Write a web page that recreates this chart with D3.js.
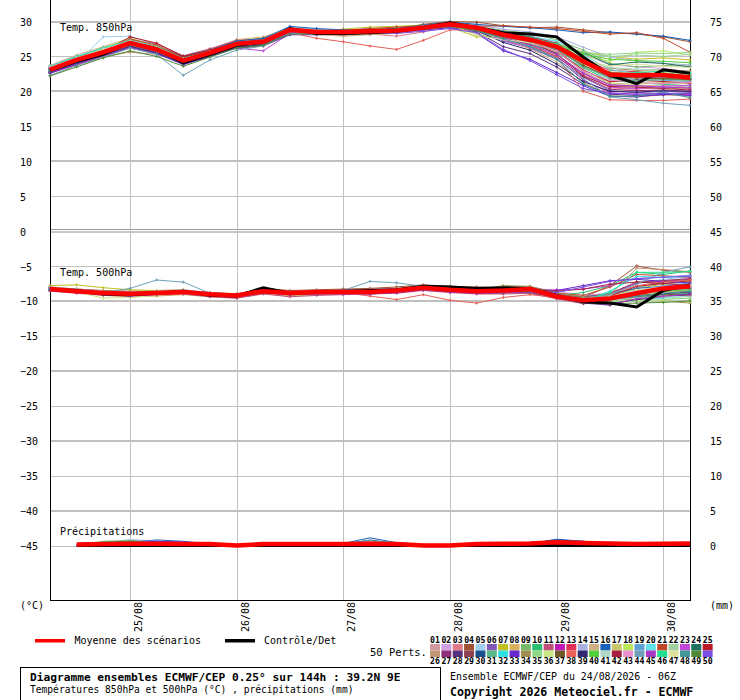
<!DOCTYPE html>
<html>
<head>
<meta charset="utf-8">
<script src="https://cdn.jsdelivr.net/npm/d3@7"></script>
<style>
  body { margin: 0; background: #fff; }
  text { font-family: "DejaVu Sans Mono", monospace; font-size: 10px; fill: #000; }
</style>
</head>
<body>
<div id="chart"></div>
<script>
// forecast steps (hours after 24/08 06Z)
const hours = [0,6,12,18,24,30,36,42,48,54,60,66,72,78,84,90,96,102,108,114,120,126,132,138,144];
const precipHours = [6,12,18,24,30,36,42,48,54,60,66,72,78,84,90,96,102,108,114,120,126,132,138,144];
const dateHours = [18,42,66,90,114,138];
const dateLabels = ["25/08","26/08","27/08","28/08","29/08","30/08"];
const leftTicks = [30,25,20,15,10,5,0,-5,-10,-15,-20,-25,-30,-35,-40,-45];
const rightTickLabels = ["75","70","65","60","55","50","45","40","35","30","25","20","15","10","5","0"];

const memberColors = ["#d09aa0","#d0a0e0","#e07a88","#a05030","#a0d0f0","#8058b8","#c0c020","#d8b060","#78b868","#28c070",
  "#c05078","#c018b8","#e03058","#a8b0e0","#d0b080","#1860b8","#c8c868","#b8e858","#60a0d8","#60e0e8",
  "#c04828","#a0d0a0","#c048d8","#207060","#b81828","#c09878","#903078","#583080","#904050","#185090",
  "#58b888","#30e0e0","#6828d0","#a09050","#90d888","#c8e888","#705828","#e86058","#302870","#50d038",
  "#b0d8c8","#a82040","#e890d0","#70a0b8","#a838c8","#20e090","#e0e0a0","#409898","#508838","#7850e8"];

// 850 hPa temperature (°C)
const t850Mean = [23.1,24.5,25.6,26.9,26.0,24.4,25.5,26.8,27.1,28.8,28.5,28.5,28.6,28.7,29.1,29.6,29.1,28.1,27.4,26.4,24.3,22.4,22.3,22.3,22.0];
const t850Control = [23.0,24.3,25.3,27.0,26.1,24.1,25.3,26.6,27.0,29.0,28.3,28.3,28.4,28.6,29.1,29.8,29.1,28.4,28.2,27.8,24.9,22.3,21.1,23.1,22.6];
const t850Members = [
  [23.4,24.8,26.0,27.2,26.3,24.6,25.8,27.0,27.4,28.9,28.6,28.4,28.3,28.5,29.0,29.5,29.0,28.0,27.1,25.6,23.2,21.0,20.8,20.9,20.6],
  [22.9,24.2,25.9,27.5,26.4,24.9,25.7,26.5,26.9,28.5,28.7,28.8,29.0,29.1,29.3,29.8,29.4,28.6,27.9,27.0,25.3,23.8,23.5,23.3,22.8],
  [23.2,24.0,25.1,26.4,25.8,24.0,25.2,27.2,27.6,29.1,28.9,28.6,28.2,27.9,28.5,29.3,28.7,27.6,26.8,25.2,22.4,20.5,20.3,20.6,20.4],
  [23.6,25.0,25.8,26.8,26.5,25.0,25.9,27.1,27.2,28.6,28.2,28.0,28.4,28.9,29.6,30.0,29.9,29.4,29.1,29.2,28.8,28.4,28.2,27.8,27.1],
  [23.0,24.1,27.8,27.9,26.7,24.8,25.6,26.9,27.5,29.2,28.9,28.7,28.8,28.8,29.2,29.7,29.2,28.3,27.8,27.0,24.8,22.6,22.9,22.0,21.7],
  [22.7,24.6,25.4,26.6,25.5,23.8,25.0,26.4,26.8,28.4,28.3,28.1,28.5,28.6,28.8,29.4,28.8,27.2,26.2,24.6,22.0,20.1,19.8,20.0,19.9],
  [23.3,24.7,26.1,27.3,26.2,24.3,25.4,26.2,26.5,28.3,28.4,28.9,29.2,29.3,29.5,29.2,27.8,27.9,27.6,26.8,25.6,25.0,24.6,24.8,24.5],
  [23.0,24.4,25.5,26.5,25.9,24.6,26.0,27.4,27.8,29.0,28.6,28.5,28.6,28.8,29.1,29.5,29.1,28.4,27.6,26.5,23.8,21.9,21.6,21.8,21.5],
  [22.8,24.5,25.7,26.9,26.1,24.7,25.5,26.7,27.0,28.7,28.5,28.4,28.7,29.0,29.3,29.7,29.3,28.7,28.3,27.4,25.9,24.0,23.5,23.7,23.6],
  [23.5,24.9,26.3,27.0,26.0,24.2,25.3,27.0,27.3,28.8,28.4,28.2,28.3,28.4,29.0,29.6,29.0,27.8,26.8,25.5,23.4,21.5,21.3,21.0,20.8],
  [23.1,24.3,25.3,27.4,26.8,25.1,26.1,27.3,27.5,28.9,28.5,28.3,28.4,28.6,29.0,29.4,28.9,28.0,27.3,26.3,24.0,22.3,22.0,22.2,21.9],
  [23.4,24.6,25.8,26.7,25.7,23.9,25.1,26.3,26.6,28.2,28.2,28.3,28.6,28.9,29.2,29.6,29.0,27.5,26.5,24.8,21.6,19.8,19.6,19.7,19.5],
  [22.6,23.8,25.0,26.2,25.4,24.1,25.4,26.6,27.0,28.6,28.4,28.6,28.8,28.7,29.0,29.5,29.1,28.2,27.7,26.9,24.5,23.0,22.8,22.5,22.3],
  [23.2,24.5,25.6,27.1,26.2,24.5,25.6,26.8,27.1,28.8,28.6,28.6,28.9,29.0,29.4,29.9,29.5,28.9,28.5,27.8,26.3,24.9,24.4,24.0,23.8],
  [23.7,25.2,26.4,27.6,26.6,24.4,25.4,26.6,26.9,28.5,28.1,27.9,28.1,28.3,28.7,29.3,28.6,27.4,26.1,24.2,21.3,19.4,19.2,19.5,19.3],
  [23.0,24.6,25.9,27.2,26.4,25.0,25.9,27.2,27.6,29.3,29.0,28.8,28.9,29.0,29.5,29.9,29.6,29.3,29.1,28.8,28.4,28.5,28.2,27.9,27.3],
  [22.9,24.2,25.2,26.5,25.6,24.0,25.2,26.5,26.9,28.6,28.3,28.2,28.4,28.5,28.9,29.4,28.8,27.7,26.9,25.8,23.1,21.2,21.0,21.3,21.1],
  [23.3,24.8,26.2,27.6,26.5,24.7,25.7,26.9,27.2,28.9,28.7,28.7,28.9,29.1,29.4,29.7,29.0,28.1,27.5,26.7,25.0,24.3,25.6,25.8,25.2],
  [23.1,24.4,25.5,26.8,25.9,24.3,25.4,26.7,27.0,28.7,28.4,28.4,28.6,28.7,29.1,29.5,29.0,28.0,27.2,26.0,23.5,22.0,21.7,21.6,21.4],
  [23.4,24.7,25.9,27.0,26.2,24.6,25.6,26.9,27.3,28.9,28.6,28.5,28.7,28.9,29.3,29.8,29.3,28.5,27.9,27.2,25.2,23.1,22.6,22.4,22.0],
  [23.0,24.3,25.7,27.5,26.6,24.9,25.8,26.8,27.4,28.7,28.5,28.7,29.0,29.2,29.4,29.6,29.3,29.4,29.2,29.0,28.6,28.2,28.4,27.6,25.6],
  [23.2,24.6,25.8,26.9,26.0,24.5,25.5,26.7,27.0,28.6,28.4,28.4,28.5,28.6,29.0,29.5,29.0,28.1,27.4,26.6,25.4,25.0,25.2,25.0,25.3],
  [22.8,24.1,25.3,26.6,25.7,24.2,25.3,26.2,25.8,28.3,28.2,28.2,28.3,28.4,28.8,29.3,28.7,27.3,26.3,24.9,22.6,20.6,20.4,20.7,20.9],
  [23.5,24.9,26.0,27.1,26.3,24.8,25.8,27.0,27.4,28.9,28.7,28.6,28.8,28.9,29.3,29.7,29.1,28.3,27.5,26.4,25.6,23.8,24.2,24.0,23.5],
  [23.1,24.4,25.6,27.8,26.9,25.0,25.9,27.0,27.2,28.8,28.5,28.4,28.6,28.8,29.2,29.6,29.2,28.2,27.3,25.9,23.0,21.4,21.6,21.4,21.2],
  [23.0,24.2,25.0,25.6,25.3,24.0,25.1,26.4,26.9,28.5,28.4,28.3,28.5,28.6,29.0,29.4,28.9,27.9,27.0,25.7,22.8,20.9,20.7,20.5,20.3],
  [23.3,24.6,25.7,26.9,26.1,24.5,25.6,26.8,27.1,28.8,28.5,28.5,28.6,28.7,29.1,29.5,29.0,27.6,26.6,25.0,22.1,20.3,20.1,20.2,20.0],
  [22.7,24.0,25.2,26.4,25.5,23.9,25.0,26.3,26.7,28.3,28.2,28.3,28.4,28.6,28.9,29.2,28.5,26.4,25.4,23.5,21.0,19.6,19.4,19.5,19.7],
  [23.2,24.5,25.7,27.0,26.1,24.5,25.5,26.8,27.1,28.8,28.6,28.6,28.8,28.9,29.2,29.6,29.2,28.4,27.8,26.9,24.6,22.5,22.3,22.6,22.5],
  [23.4,24.7,25.9,27.1,26.3,24.7,25.7,27.0,27.3,28.9,28.7,28.6,28.8,29.0,29.4,29.8,29.3,28.5,27.7,26.7,24.2,22.4,22.1,21.9,21.8],
  [22.9,24.3,25.4,26.7,25.8,24.2,25.3,26.6,26.9,28.6,28.4,28.3,28.5,28.6,29.0,29.4,28.9,27.9,27.1,26.0,23.6,21.8,21.5,21.7,21.6],
  [23.6,25.0,26.2,27.3,26.4,24.6,25.6,26.9,27.2,28.8,28.5,28.5,28.7,28.8,29.1,29.5,29.0,28.2,27.6,26.8,24.3,22.6,22.2,22.0,21.8],
  [22.6,23.9,25.1,26.3,25.4,23.9,25.0,26.2,26.5,28.1,28.1,28.2,28.4,28.5,28.8,29.1,28.3,25.8,24.6,22.7,20.8,19.3,19.2,19.6,19.4],
  [23.1,24.5,25.6,26.9,26.0,24.4,25.4,26.7,27.0,28.7,28.5,28.5,28.7,28.8,29.2,29.6,29.1,28.3,27.6,26.6,24.7,23.3,23.0,23.1,22.9],
  [23.3,24.7,25.8,27.0,26.2,24.6,25.6,26.8,27.1,28.7,28.4,28.4,28.5,28.7,29.1,29.5,28.9,28.0,27.4,26.5,25.6,25.3,25.5,25.4,25.6],
  [23.0,24.4,25.6,26.8,26.0,24.4,25.4,26.6,26.9,28.6,28.4,28.4,28.6,28.7,29.0,29.5,28.2,27.7,27.0,26.2,24.1,22.8,22.5,22.7,22.4],
  [23.2,24.6,25.7,27.0,26.1,24.5,25.5,26.7,27.0,28.7,28.5,28.5,28.7,28.8,29.2,29.6,29.1,28.1,27.2,26.1,23.7,22.1,21.9,21.8,21.7],
  [23.4,24.7,25.9,27.2,26.3,24.6,25.6,26.8,27.1,28.4,27.6,27.1,26.5,26.0,27.3,28.8,28.8,27.6,26.6,24.9,20.0,18.8,18.7,18.7,18.9],
  [22.8,24.1,25.3,26.5,25.6,24.0,25.1,26.4,26.8,28.4,28.3,28.3,28.5,28.6,28.9,29.3,28.7,27.0,25.9,23.9,21.4,20.0,19.9,20.1,20.0],
  [23.1,24.4,25.5,26.7,25.8,24.3,25.4,26.6,26.9,28.7,28.5,28.5,28.6,28.8,29.1,29.6,29.0,28.2,27.5,26.8,25.3,24.6,24.4,24.3,24.1],
  [23.5,24.8,26.0,27.1,26.2,24.5,25.5,26.7,27.0,28.6,28.4,28.4,28.6,28.8,29.1,29.5,28.8,27.9,27.3,26.4,24.4,23.4,23.2,23.0,22.7],
  [23.0,24.3,25.4,26.6,25.7,24.1,25.2,26.5,26.9,28.6,28.4,28.3,28.4,28.6,29.0,29.5,29.0,28.0,27.1,25.4,22.2,20.7,20.6,20.4,20.2],
  [23.2,24.5,25.6,26.8,25.9,24.3,25.3,26.5,26.8,28.5,28.3,28.2,28.4,28.5,28.9,29.3,28.8,27.8,27.0,25.8,22.9,21.6,21.3,21.1,21.3],
  [22.3,23.7,24.9,26.2,25.3,22.3,24.5,25.9,26.5,28.3,28.2,28.2,28.5,28.6,28.9,29.3,28.7,27.5,26.5,24.7,21.8,19.2,18.8,18.3,18.0],
  [23.3,24.6,25.7,27.0,26.1,24.5,25.5,26.7,27.0,28.6,28.4,28.4,28.6,28.7,29.1,29.5,28.9,27.7,26.7,25.3,22.6,20.9,20.8,20.6,20.5],
  [23.0,24.4,25.6,26.9,26.0,24.4,25.5,26.8,27.1,28.8,28.6,28.5,28.7,28.9,29.3,29.7,29.2,28.4,27.7,26.7,24.1,22.4,22.7,22.9,22.6],
  [23.4,24.8,26.0,27.2,26.3,24.7,25.7,26.9,27.2,28.8,28.5,28.5,28.6,28.8,29.2,29.6,28.0,27.4,27.0,26.3,24.5,23.6,23.9,23.6,23.4],
  [22.9,24.2,25.3,26.6,25.7,24.1,25.3,26.5,26.8,28.5,28.3,28.3,28.5,28.6,28.9,29.4,28.8,27.5,26.4,24.6,21.1,19.3,19.3,19.9,19.1],
  [22.2,23.5,24.8,25.8,25.0,23.6,24.9,26.2,26.6,28.2,28.2,28.3,28.5,28.6,28.9,29.3,28.7,27.8,27.1,26.2,24.0,22.7,22.4,22.6,22.2],
  [23.2,24.5,25.6,26.9,26.0,24.4,25.4,26.6,26.9,28.5,28.3,28.3,28.4,28.3,28.6,29.0,28.4,26.0,24.4,22.4,20.4,19.7,19.6,19.7,19.8]
];

// 500 hPa temperature (°C)
const t500Mean = [-8.3,-8.6,-8.85,-8.95,-8.85,-8.7,-9.05,-9.2,-8.6,-8.85,-8.7,-8.7,-8.7,-8.5,-8.1,-8.4,-8.6,-8.5,-8.3,-9.35,-9.9,-9.65,-8.9,-8.2,-7.9];
const t500Control = [-8.3,-8.5,-9.0,-9.1,-8.9,-8.6,-9.2,-9.3,-8.1,-8.9,-8.7,-8.6,-8.5,-8.4,-7.9,-8.0,-8.2,-8.1,-8.2,-9.2,-10.1,-10.3,-10.85,-8.5,-7.7];
const t500Members = [
  [-8.1,-8.4,-8.7,-8.8,-8.7,-8.5,-9.0,-9.1,-8.5,-8.8,-8.6,-8.6,-8.6,-8.4,-8.0,-8.3,-8.5,-8.6,-8.9,-9.6,-10.1,-9.8,-8.6,-7.9,-7.6],
  [-8.4,-8.3,-8.6,-8.7,-8.5,-8.4,-8.9,-9.0,-8.3,-8.6,-8.5,-8.4,-8.3,-8.2,-7.8,-8.1,-8.3,-8.2,-8.0,-8.6,-9.2,-8.9,-7.5,-7.0,-6.8],
  [-8.2,-8.7,-9.0,-9.1,-9.0,-8.9,-9.2,-9.4,-8.8,-9.1,-8.9,-8.9,-8.9,-8.7,-8.3,-8.6,-8.8,-8.8,-8.7,-9.5,-10.2,-10.0,-9.3,-8.8,-8.5],
  [-8.0,-8.3,-8.5,-8.6,-8.6,-8.5,-8.8,-9.0,-8.2,-8.5,-8.4,-8.3,-8.2,-8.0,-7.7,-7.9,-8.0,-8.1,-8.0,-8.8,-9.5,-7.8,-5.0,-5.6,-5.9],
  [-8.3,-8.5,-8.8,-8.9,-8.8,-8.6,-9.0,-9.1,-8.4,-8.7,-8.6,-8.6,-8.5,-8.4,-8.0,-8.3,-8.5,-8.4,-8.3,-9.0,-9.6,-9.0,-7.4,-6.9,-6.5],
  [-8.5,-8.8,-9.1,-9.2,-9.1,-8.9,-9.3,-9.5,-8.9,-9.2,-9.0,-9.0,-9.0,-8.8,-8.4,-8.7,-8.9,-8.9,-8.8,-9.6,-10.2,-10.1,-9.5,-9.2,-9.0],
  [-7.8,-7.7,-8.1,-8.4,-8.5,-8.4,-8.9,-9.1,-8.6,-9.0,-8.8,-8.7,-8.6,-8.5,-8.2,-8.5,-8.6,-8.5,-8.4,-9.2,-9.8,-9.4,-8.2,-7.6,-7.2],
  [-8.4,-8.7,-9.2,-9.4,-9.3,-9.1,-9.4,-9.6,-8.9,-9.3,-9.1,-9.0,-8.9,-8.7,-8.3,-8.6,-8.8,-8.7,-8.5,-9.3,-9.9,-9.8,-9.0,-8.6,-8.3],
  [-8.2,-8.5,-8.8,-8.9,-8.8,-8.6,-9.0,-9.2,-8.5,-8.8,-8.7,-8.7,-8.6,-8.5,-8.1,-8.4,-8.6,-8.6,-8.5,-9.4,-10.0,-9.5,-8.1,-7.3,-7.0],
  [-8.3,-8.6,-8.9,-9.0,-8.9,-8.7,-9.1,-9.3,-8.7,-8.9,-8.8,-8.8,-8.8,-8.6,-8.2,-8.5,-8.7,-8.7,-8.6,-9.2,-8.8,-7.8,-5.9,-6.2,-5.7],
  [-8.6,-8.9,-9.2,-9.3,-9.2,-9.0,-9.4,-9.6,-9.0,-9.4,-9.2,-9.1,-9.0,-8.9,-8.5,-8.8,-9.0,-9.0,-8.9,-9.7,-10.4,-10.2,-9.6,-9.3,-9.1],
  [-8.2,-8.4,-8.7,-8.9,-8.8,-8.6,-9.0,-9.1,-8.5,-8.8,-8.7,-8.7,-8.6,-8.4,-8.0,-8.4,-8.6,-8.5,-8.3,-9.1,-9.7,-9.0,-7.4,-7.2,-6.9],
  [-8.4,-8.6,-8.9,-9.0,-8.9,-8.8,-9.1,-9.3,-8.7,-9.0,-8.8,-8.8,-8.8,-8.6,-8.2,-8.5,-8.7,-8.7,-8.6,-9.4,-10.0,-9.8,-8.9,-8.4,-8.1],
  [-8.0,-8.3,-8.6,-8.7,-8.6,-8.4,-8.8,-9.0,-8.4,-8.7,-8.5,-8.5,-8.4,-8.3,-7.9,-8.2,-8.4,-8.3,-8.1,-8.9,-9.5,-9.2,-8.0,-7.5,-7.4],
  [-8.3,-8.6,-8.9,-9.0,-8.9,-8.7,-9.0,-9.2,-8.6,-8.9,-8.7,-8.7,-8.7,-8.5,-8.1,-8.4,-8.6,-8.6,-8.5,-9.3,-9.8,-9.7,-9.0,-8.7,-8.6],
  [-8.5,-8.7,-9.0,-9.1,-9.0,-8.8,-9.2,-9.3,-8.7,-9.0,-8.9,-8.9,-8.9,-8.7,-8.3,-8.6,-8.7,-8.6,-8.5,-9.1,-9.4,-9.0,-8.2,-7.9,-7.5],
  [-8.2,-8.5,-8.8,-8.9,-8.8,-8.6,-9.0,-9.2,-8.6,-8.8,-8.7,-8.7,-8.7,-8.5,-8.1,-8.4,-8.6,-8.6,-8.4,-9.2,-9.9,-9.9,-9.4,-9.3,-9.2],
  [-8.1,-8.4,-8.7,-8.8,-8.7,-8.5,-8.9,-9.1,-8.5,-8.8,-8.6,-8.6,-8.6,-8.4,-8.0,-8.3,-8.5,-8.5,-8.3,-9.1,-9.7,-9.6,-9.3,-9.5,-9.7],
  [-8.3,-8.6,-8.8,-9.0,-8.9,-8.7,-9.1,-9.2,-8.6,-8.9,-8.8,-8.7,-8.7,-8.5,-8.1,-8.4,-8.6,-8.6,-8.5,-9.3,-9.9,-9.4,-8.5,-7.8,-7.5],
  [-8.4,-8.7,-9.0,-9.1,-9.0,-8.8,-9.2,-9.4,-8.7,-9.0,-8.9,-8.8,-8.8,-8.6,-8.2,-8.5,-8.7,-8.7,-8.6,-9.4,-10.1,-10.3,-9.8,-9.6,-9.3],
  [-8.2,-8.5,-8.7,-8.9,-8.8,-8.6,-9.0,-9.1,-8.5,-8.8,-8.6,-8.6,-8.6,-8.4,-8.0,-8.3,-8.5,-8.4,-8.1,-8.9,-9.2,-8.0,-6.2,-6.4,-6.6],
  [-8.3,-8.6,-8.9,-9.0,-8.9,-8.7,-9.1,-9.3,-8.6,-8.9,-8.7,-8.7,-8.7,-8.5,-8.1,-8.4,-8.6,-8.6,-8.5,-9.3,-9.9,-9.9,-9.2,-8.8,-8.9],
  [-8.5,-8.8,-9.1,-9.2,-9.1,-8.9,-9.3,-9.4,-8.8,-9.1,-8.9,-8.9,-8.9,-8.7,-8.3,-8.6,-8.8,-8.7,-8.5,-8.4,-8.3,-7.8,-6.8,-6.6,-6.3],
  [-8.4,-8.7,-8.9,-9.0,-8.9,-8.7,-9.1,-9.3,-8.7,-9.0,-8.8,-8.8,-8.8,-8.6,-8.2,-8.5,-8.7,-8.6,-8.4,-9.2,-9.7,-9.5,-8.7,-8.2,-8.0],
  [-8.2,-8.5,-8.8,-8.9,-8.8,-8.6,-9.0,-9.2,-8.6,-8.9,-8.7,-8.7,-8.6,-8.5,-8.1,-8.4,-8.6,-8.6,-8.4,-9.2,-9.8,-9.3,-7.9,-7.5,-7.1],
  [-8.3,-8.6,-8.9,-9.0,-8.9,-8.7,-9.1,-9.3,-8.7,-8.9,-8.8,-8.8,-8.7,-8.6,-8.2,-8.5,-8.7,-8.7,-8.6,-9.3,-9.9,-9.2,-5.3,-5.5,-5.8],
  [-8.5,-8.8,-9.0,-9.1,-9.0,-8.9,-9.2,-9.4,-8.8,-9.1,-9.0,-8.9,-8.9,-8.8,-8.4,-8.7,-8.9,-8.8,-8.7,-9.5,-10.1,-10.0,-9.4,-9.0,-8.8],
  [-8.4,-8.7,-9.0,-9.2,-9.0,-8.8,-9.2,-9.4,-8.8,-9.0,-8.9,-8.9,-8.8,-8.7,-8.3,-8.6,-8.8,-8.8,-8.7,-9.5,-10.3,-10.6,-9.6,-9.0,-8.7],
  [-8.2,-8.5,-8.8,-8.9,-8.8,-8.6,-9.0,-9.2,-8.5,-8.8,-8.7,-8.7,-8.6,-8.4,-8.0,-8.3,-8.5,-8.5,-8.3,-9.0,-9.5,-8.9,-7.3,-7.1,-6.8],
  [-8.3,-8.6,-8.9,-9.0,-8.9,-8.8,-9.1,-9.3,-8.7,-8.9,-8.8,-8.8,-8.7,-8.5,-8.2,-8.4,-8.6,-8.6,-8.4,-9.2,-9.8,-9.7,-8.8,-8.4,-8.2],
  [-8.3,-8.6,-8.8,-8.9,-8.8,-8.7,-9.0,-9.2,-8.6,-8.9,-8.7,-8.7,-8.7,-8.5,-8.1,-8.4,-8.6,-8.6,-8.5,-9.3,-9.9,-10.0,-9.5,-9.1,-8.9],
  [-8.4,-8.7,-9.0,-9.1,-9.0,-8.8,-9.2,-9.3,-8.7,-9.0,-8.8,-8.8,-8.8,-8.6,-8.2,-8.5,-8.7,-8.7,-8.6,-9.4,-10.0,-8.6,-6.5,-6.6,-6.4],
  [-8.3,-8.6,-8.9,-9.0,-8.9,-8.7,-9.1,-9.2,-8.6,-8.9,-8.8,-8.7,-8.7,-8.5,-8.1,-8.4,-8.6,-8.5,-8.4,-8.5,-7.8,-7.1,-6.9,-7.2,-7.4],
  [-8.1,-8.4,-8.7,-8.8,-8.7,-8.5,-8.9,-9.1,-8.4,-8.7,-8.6,-8.6,-8.5,-8.3,-7.9,-8.2,-8.4,-7.8,-7.9,-8.9,-9.4,-9.6,-9.8,-10.0,-10.3],
  [-8.3,-8.6,-8.9,-9.0,-8.9,-8.7,-9.1,-9.3,-8.6,-8.9,-8.8,-8.8,-8.7,-8.5,-8.1,-8.4,-8.6,-8.6,-8.5,-9.4,-10.0,-10.1,-10.0,-9.8,-9.6],
  [-8.4,-8.7,-9.6,-9.5,-9.2,-8.9,-9.2,-9.4,-8.7,-9.0,-8.8,-8.8,-8.8,-8.6,-8.2,-8.5,-8.7,-8.7,-8.6,-9.3,-9.9,-10.0,-9.9,-10.0,-10.1],
  [-8.2,-8.5,-8.8,-8.9,-8.8,-8.6,-9.0,-9.2,-8.6,-8.9,-8.7,-8.7,-8.6,-8.4,-8.0,-8.3,-8.5,-8.5,-8.4,-9.2,-9.8,-9.6,-9.2,-9.0,-9.3],
  [-8.3,-8.6,-8.9,-9.0,-8.9,-8.7,-9.1,-9.2,-8.6,-8.9,-8.7,-8.8,-9.3,-9.8,-9.1,-9.9,-10.3,-9.5,-9.1,-9.5,-9.6,-9.0,-7.8,-7.3,-7.0],
  [-8.4,-8.7,-9.0,-9.1,-9.0,-8.8,-9.2,-9.4,-8.7,-9.0,-8.9,-8.9,-8.8,-8.6,-8.2,-8.5,-8.7,-8.7,-8.6,-9.4,-10.1,-10.4,-9.8,-9.4,-9.0],
  [-8.2,-8.5,-8.8,-8.9,-8.8,-8.6,-9.0,-9.2,-8.5,-8.8,-8.7,-8.6,-8.6,-8.4,-8.0,-8.3,-8.5,-8.5,-8.4,-9.2,-9.8,-9.6,-9.0,-8.6,-8.4],
  [-8.3,-8.6,-8.9,-9.0,-8.9,-8.7,-9.1,-9.2,-8.6,-8.9,-8.8,-8.7,-8.7,-8.5,-8.1,-8.4,-8.6,-8.6,-8.5,-9.3,-9.9,-9.9,-9.6,-9.4,-9.4],
  [-8.4,-8.7,-8.9,-9.0,-8.9,-8.7,-9.1,-9.3,-8.7,-9.0,-8.8,-8.8,-8.8,-8.6,-8.2,-8.5,-8.7,-8.6,-8.4,-8.6,-8.3,-7.6,-7.3,-7.5,-7.8],
  [-8.2,-8.5,-8.8,-8.9,-8.8,-8.6,-9.0,-9.2,-8.6,-8.9,-8.7,-8.7,-8.6,-8.5,-8.1,-8.4,-8.6,-8.5,-8.4,-9.2,-9.8,-9.7,-8.6,-8.3,-8.0],
  [-8.4,-8.6,-8.8,-8.2,-7.0,-7.3,-8.9,-9.1,-8.5,-8.8,-8.6,-8.5,-7.2,-7.4,-7.9,-8.3,-8.5,-8.4,-8.3,-9.1,-9.6,-9.1,-7.6,-5.9,-5.1],
  [-8.5,-8.8,-9.1,-9.3,-9.1,-8.9,-9.3,-9.5,-8.8,-9.1,-9.0,-9.0,-9.0,-8.8,-8.4,-8.7,-8.9,-8.8,-8.7,-9.5,-10.2,-10.5,-9.7,-9.3,-9.1],
  [-8.3,-8.6,-8.9,-9.0,-8.9,-8.7,-9.1,-9.3,-8.6,-8.9,-8.8,-8.8,-8.7,-8.5,-8.1,-8.4,-8.6,-8.6,-8.5,-9.3,-9.9,-8.8,-5.9,-5.9,-5.8],
  [-8.2,-8.5,-8.8,-8.9,-8.8,-8.6,-9.0,-9.1,-8.5,-8.8,-8.7,-8.6,-8.6,-8.4,-8.0,-8.3,-8.5,-8.5,-8.4,-9.2,-9.7,-9.4,-8.4,-8.0,-7.7],
  [-8.3,-8.6,-8.9,-9.0,-8.9,-8.7,-9.1,-9.3,-8.7,-8.9,-8.8,-8.8,-8.7,-8.5,-8.2,-8.4,-8.6,-8.6,-8.5,-9.3,-9.9,-9.8,-9.3,-8.9,-8.6],
  [-8.4,-8.7,-9.0,-9.1,-9.0,-8.8,-9.2,-9.4,-8.7,-9.0,-8.9,-8.9,-8.8,-8.6,-8.2,-8.5,-8.7,-8.7,-8.6,-9.5,-10.2,-10.4,-10.3,-10.2,-10.0],
  [-8.2,-8.5,-8.8,-8.9,-8.8,-8.6,-9.0,-9.2,-8.5,-8.8,-8.7,-8.7,-8.6,-8.4,-8.0,-8.3,-8.5,-8.6,-8.5,-8.8,-8.0,-7.2,-6.8,-6.6,-6.5]
];

// precipitation (mm), from +6h
const precipMean = [0.15,0.2,0.25,0.25,0.2,0.2,0,0.2,0.2,0.2,0.2,0.25,0.2,0,0,0.2,0.25,0.3,0.45,0.35,0.3,0.2,0.25,0.3];
const precipControl = [0,0,0,0,0,0,0,0,0,0,0,0,0,0,0,0,0,0,0,0,0,0,0,0];
const precipMembers = [
  [0,0.2,0.3,0.2,0,0,0,0,0,0,0,0.3,0,0,0,0,0,0.2,0.5,0.3,0.2,0.1,0.2,0.3],
  [0,0.4,0.5,0.4,0.2,0,0,0,0,0,0,0,0,0,0,0,0,0.3,0.6,0.4,0.3,0.2,0.2,0.2],
  [0,0.1,0.2,0.1,0,0,0,0,0,0,0.1,0.2,0.1,0,0,0,0.1,0.3,0.7,0.5,0.4,0.3,0.3,0.4],
  [0,0.5,0.6,0.5,0.3,0,0,0,0,0,0,0,0,0,0,0,0,0,0,0,0,0,0,0],
  [0,0.3,0.9,0.6,0.2,0,0,0,0,0,0.2,0.5,0.2,0,0,0,0,0.2,0.4,0.3,0.3,0.2,0.2,0.2],
  [0,0,0,0,0,0,0,0,0,0,0,0,0,0,0,0,0,0,0.2,0.2,0,0,0,0],
  [0,0,0,0,0,0,0,0,0,0,0,0,0,0,0,0,0,0,0,0,0,0,0,0],
  [0,0,0.2,0.2,0,0,0,0,0,0,0,0,0,0,0,0,0,0,0.3,0.2,0,0,0,0],
  [0,0.6,0.7,0.5,0.1,0,0,0,0,0,0,0,0,0,0,0,0,0,0,0,0,0,0,0],
  [0,0.5,0.6,0.3,0,0,0,0,0,0,0,0,0,0,0,0,0,0,0.2,0,0,0,0,0],
  [0,0,0,0,0,0,0,0,0,0,0,0,0,0,0,0,0,0.2,0.4,0.3,0.1,0,0,0],
  [0,0.3,0.4,0.6,0.4,0,0,0,0,0,0,0,0,0,0,0,0,0,0,0,0,0,0,0],
  [0,0,0,0,0,0,0,0,0,0,0,0,0,0,0,0,0,0,0.5,0.6,0.3,0,0,0.2],
  [0,0,0,0,0,0,0,0,0,0,0,0.2,0,0,0,0,0,0,0,0,0,0,0,0],
  [0,0,0,0,0,0,0,0,0,0,0,0,0,0,0,0,0,0,0,0,0,0,0,0],
  [0,0.2,0.4,0.8,0.6,0.2,0,0,0,0,0.3,1.1,0.4,0,0,0,0,0.3,0.9,0.6,0.2,0.1,0.1,0.2],
  [0,0,0,0,0,0,0,0,0,0,0,0,0,0,0,0,0,0,0,0,0,0,0,0],
  [0,0,0,0,0,0,0,0,0,0,0,0,0,0,0,0,0,0,0.2,0.3,0.3,0.2,0,0],
  [0,0.2,0.5,0.7,0.3,0,0,0,0,0,0.2,0.6,0.2,0,0,0,0,0,0,0,0,0,0,0],
  [0,0,0,0,0,0,0,0,0,0,0,0,0,0,0,0,0,0,0,0,0,0,0,0],
  [0,0,0,0,0,0,0,0,0,0,0,0,0,0,0,0,0,0,0.3,0.4,0.3,0.2,0.2,0.2],
  [0,0,0,0,0,0,0,0,0,0,0,0,0,0,0,0,0,0,0,0,0,0,0,0],
  [0,0,0,0,0,0,0,0,0,0,0,0,0,0,0,0,0,0,0,0.2,0.2,0,0,0],
  [0,0,0,0,0,0,0,0,0,0,0.2,0.8,0.3,0,0,0,0,0.2,0.5,0.4,0.4,0.2,0.3,0.4],
  [0,0,0,0,0,0,0,0,0,0,0,0,0,0,0,0,0,0,0,0,0,0,0,0],
  [0,0,0,0,0,0,0,0,0,0,0,0,0,0,0,0,0,0,0,0,0,0,0,0],
  [0,0.4,0.5,0.3,0,0,0,0,0,0,0,0,0,0,0,0,0,0,0,0,0,0,0,0],
  [0,0,0,0,0,0,0,0,0,0,0,0,0,0,0,0,0,0,0,0,0,0,0,0],
  [0,0,0,0,0,0,0,0,0,0,0,0,0,0,0,0,0,0,0,0,0,0,0,0],
  [0,0,0,0,0,0,0,0,0,0,0,0,0,0,0,0,0,0.3,0.8,0.6,0.2,0,0,0],
  [0,0,0,0,0,0,0,0,0,0,0,0,0,0,0,0,0,0,0,0,0,0,0,0],
  [0,0,0.2,0.3,0,0,0,0,0,0,0,0,0,0,0,0,0,0,0,0,0,0,0,0],
  [0,0.3,0.6,0.6,0.5,0.3,0,0,0,0,0,0,0,0,0,0,0,0,0.2,0.2,0,0,0,0],
  [0,0,0,0,0,0,0,0,0,0,0,0,0,0,0,0,0,0,0,0,0,0,0,0],
  [0,0,0,0,0,0,0,0,0,0,0,0,0,0,0,0,0,0,0,0,0,0,0,0],
  [0,0,0,0,0,0,0,0,0,0,0,0,0,0,0,0,0,0,0,0,0,0,0,0],
  [0,0,0,0,0,0,0,0,0,0,0,0,0,0,0,0,0,0,0,0,0,0,0,0],
  [0,0,0,0,0,0,0,0,0,0,0,0,0,0,0,0,0,0.4,0.6,0.4,0.2,0,0.2,0.3],
  [0,0,0,0,0,0,0,0,0,0,0,0,0,0,0,0,0,0,0.3,0.2,0,0,0,0],
  [0,0.3,0.5,0.2,0,0,0,0,0,0,0,0,0,0,0,0,0,0,0,0,0,0,0,0],
  [0,0,0,0,0,0,0,0,0,0,0,0,0,0,0,0,0,0,0,0,0,0,0,0],
  [0,0,0,0,0,0,0,0,0,0,0,0,0,0,0,0,0,0,0,0,0,0,0,0],
  [0,0,0,0,0,0,0,0,0,0,0.2,0.6,0.3,0,0,0,0,0.2,0.5,0.5,0.3,0.2,0.2,0.3],
  [0,0,0,0,0,0,0,0,0,0,0.3,0.7,0.2,0,0,0,0,0,0,0,0,0,0,0],
  [0,0.2,0.4,0.5,0.4,0,0,0,0,0,0,0,0,0,0,0,0,0,0,0,0,0,0,0],
  [0,0,0,0,0,0,0,0,0,0,0,0,0,0,0,0,0,0,0,0,0,0,0,0],
  [0,0,0,0,0,0,0,0,0,0,0,0,0,0,0,0,0,0,0,0,0,0,0,0],
  [0,0,0,0,0,0,0,0,0,0,0,0.3,0,0,0,0,0,0,0.3,0.3,0.2,0,0,0],
  [0,0.4,0.6,0.4,0.2,0,0,0,0,0,0,0,0,0,0,0,0,0,0,0,0,0,0,0],
  [0,0,0,0,0,0,0,0,0,0,0,0,0,0,0,0,0,0,0.2,0.2,0,0,0,0]
];

const width = 740, height = 700;
const svg = d3.select("#chart").append("svg")
  .attr("width", width).attr("height", height);

const x = d3.scaleLinear().domain([0, 144]).range([50, 690]);
// one continuous scale: °C on the left, right labels shifted by +45
const y = d3.scaleLinear().domain([30, -45]).range([21.5, 545.5]);
const yPrecip = p => y(p - 45);

// horizontal grid
const grid = svg.append("g").attr("shape-rendering", "crispEdges");
leftTicks.filter(v => v !== 0).forEach(v => {
  grid.append("line")
    .attr("x1", 50).attr("x2", 690)
    .attr("y1", Math.round(y(v))).attr("y2", Math.round(y(v)))
    .attr("stroke", "#c0c0c0")
    .attr("stroke-width", v % 10 === 0 ? 2 : 1);
});
// double line between the two panels
grid.append("line").attr("x1", 50).attr("x2", 690).attr("y1", 229.5).attr("y2", 229.5)
  .attr("stroke", "#9a9a9a").attr("stroke-width", 1);
grid.append("line").attr("x1", 50).attr("x2", 690).attr("y1", 231.5).attr("y2", 231.5)
  .attr("stroke", "#c8c8c8").attr("stroke-width", 2);

// vertical grid at 00Z
dateHours.forEach(h => {
  grid.append("line")
    .attr("x1", Math.round(x(h)) + 0.5).attr("x2", Math.round(x(h)) + 0.5)
    .attr("y1", 0).attr("y2", 600)
    .attr("stroke", "#c0c0c0").attr("stroke-width", 1);
});

// axes
const leftAxis = svg.append("g").attr("transform", "translate(50,0)")
  .call(d3.axisLeft(y).tickValues(leftTicks).tickSize(0).tickFormat(d3.format("d")));
leftAxis.select(".domain").remove();
leftAxis.selectAll("text").attr("text-anchor", "start").attr("x", -30).attr("dy", "0.4em")
  .style("font-family", "DejaVu Sans Mono").style("font-size", "10px");

const rightAxis = svg.append("g").attr("transform", "translate(690,0)")
  .call(d3.axisRight(y).tickValues(leftTicks).tickSize(0).tickPadding(20)
    .tickFormat((d, i) => rightTickLabels[i]));
rightAxis.select(".domain").remove();
rightAxis.selectAll("text").attr("dy", "0.4em")
  .style("font-family", "DejaVu Sans Mono").style("font-size", "10px");

// frame
const frame = svg.append("g").attr("shape-rendering", "crispEdges").attr("stroke", "#000");
frame.append("line").attr("x1", 50.5).attr("x2", 50.5).attr("y1", 0).attr("y2", 600.5);
frame.append("line").attr("x1", 690.5).attr("x2", 690.5).attr("y1", 0).attr("y2", 600.5);
frame.append("line").attr("x1", 50).attr("x2", 691).attr("y1", 600.5).attr("y2", 600.5);

// date labels
const xAxis = svg.append("g").attr("transform", "translate(0,602)")
  .call(d3.axisBottom(x).tickValues(dateHours).tickSize(0).tickFormat((d, i) => dateLabels[i]));
xAxis.select(".domain").remove();
xAxis.selectAll(".tick text")
  .attr("transform", "translate(11.5,0) rotate(-90)")
  .attr("text-anchor", "end").attr("x", 0).attr("y", 0).attr("dy", 0)
  .style("font-family", "DejaVu Sans Mono").style("font-size", "10px");

// lines
const tLine = d3.line().x((d, i) => x(hours[i])).y(d => y(d));
const pLine = d3.line().x((d, i) => x(precipHours[i])).y(d => yPrecip(d));

function crosses(values, xs, yf) {
  return values.map((v, i) => {
    const px = x(xs[i]), py = yf(v);
    return `M${px - 1.5},${py}h3M${px},${py - 1.5}v3`;
  }).join("");
}

const members = svg.append("g").attr("fill", "none").attr("stroke-width", 1);
t850Members.forEach((m, k) => {
  members.append("path").attr("d", tLine(m)).attr("stroke", memberColors[k]);
  members.append("path").attr("d", crosses(m, hours, y)).attr("stroke", memberColors[k]);
});
t500Members.forEach((m, k) => {
  members.append("path").attr("d", tLine(m)).attr("stroke", memberColors[k]);
  members.append("path").attr("d", crosses(m, hours, y)).attr("stroke", memberColors[k]);
});
precipMembers.forEach((m, k) => {
  members.append("path").attr("d", pLine(m)).attr("stroke", memberColors[k]);
});

const main = svg.append("g").attr("fill", "none");
main.append("path").attr("d", tLine(t850Control)).attr("stroke", "#000").attr("stroke-width", 3);
main.append("path").attr("d", tLine(t500Control)).attr("stroke", "#000").attr("stroke-width", 3);
main.append("path").attr("d", pLine(precipControl)).attr("stroke", "#000").attr("stroke-width", 3);
main.append("path").attr("d", tLine(t850Mean)).attr("stroke", "#ff0000").attr("stroke-width", 4.5);
main.append("path").attr("d", tLine(t500Mean)).attr("stroke", "#ff0000").attr("stroke-width", 4.5);
main.append("path").attr("d", pLine(precipMean)).attr("stroke", "#ff0000").attr("stroke-width", 4.5);

// panel titles
svg.append("text").attr("x", 60).attr("y", 30.5).text("Temp. 850hPa");
svg.append("text").attr("x", 60).attr("y", 276).text("Temp. 500hPa");
svg.append("text").attr("x", 60).attr("y", 534.5).text("Précipitations");
svg.append("text").attr("x", 20).attr("y", 609).text("(°C)");
svg.append("text").attr("x", 710).attr("y", 609).text("(mm)");

// legend
const legend = svg.append("g");
legend.append("rect").attr("x", 35).attr("y", 639).attr("width", 30).attr("height", 3.5).attr("fill", "#ff0000");
legend.append("text").attr("x", 74.5).attr("y", 643.5).text("Moyenne des scénarios");
legend.append("rect").attr("x", 225).attr("y", 639).attr("width", 30).attr("height", 3.5).attr("fill", "#000");
legend.append("text").attr("x", 264).attr("y", 643.5).text("Contrôle/Det");
legend.append("text").attr("x", 370).attr("y", 656).style("font-size", "10.5px").text("50 Perts.");

const pitch = 11.36;
memberColors.forEach((c, k) => {
  const col = k % 25, row = Math.floor(k / 25);
  legend.append("rect")
    .attr("x", 430 + col * pitch).attr("y", row === 0 ? 644 : 650.5)
    .attr("width", 10).attr("height", 6.5).attr("fill", c);
  legend.append("text")
    .attr("x", 430 + col * pitch + 5).attr("y", row === 0 ? 642.5 : 664)
    .attr("text-anchor", "middle")
    .style("font-size", "8.2px").style("font-weight", "bold")
    .text(String(k + 1).padStart(2, "0"));
});

// footer
svg.append("rect").attr("x", 20.5).attr("y", 667.5).attr("width", 420).attr("height", 40)
  .attr("fill", "none").attr("stroke", "#000").attr("shape-rendering", "crispEdges");
svg.append("text").attr("x", 30).attr("y", 680.5).style("font-size", "11.2px").style("font-weight", "bold")
  .text("Diagramme ensembles ECMWF/CEP 0.25° sur 144h : 39.2N 9E");
svg.append("text").attr("x", 30).attr("y", 693).style("font-size", "9.6px")
  .text("Températures 850hPa et 500hPa (°C) , précipitations (mm)");
svg.append("text").attr("x", 450).attr("y", 679.5).style("font-size", "9.9px")
  .text("Ensemble ECMWF/CEP du 24/08/2026 - 06Z");
svg.append("text").attr("x", 450).attr("y", 696).style("font-size", "11.55px").style("font-weight", "bold")
  .text("Copyright 2026 Meteociel.fr - ECMWF");
</script>
</body>
</html>
